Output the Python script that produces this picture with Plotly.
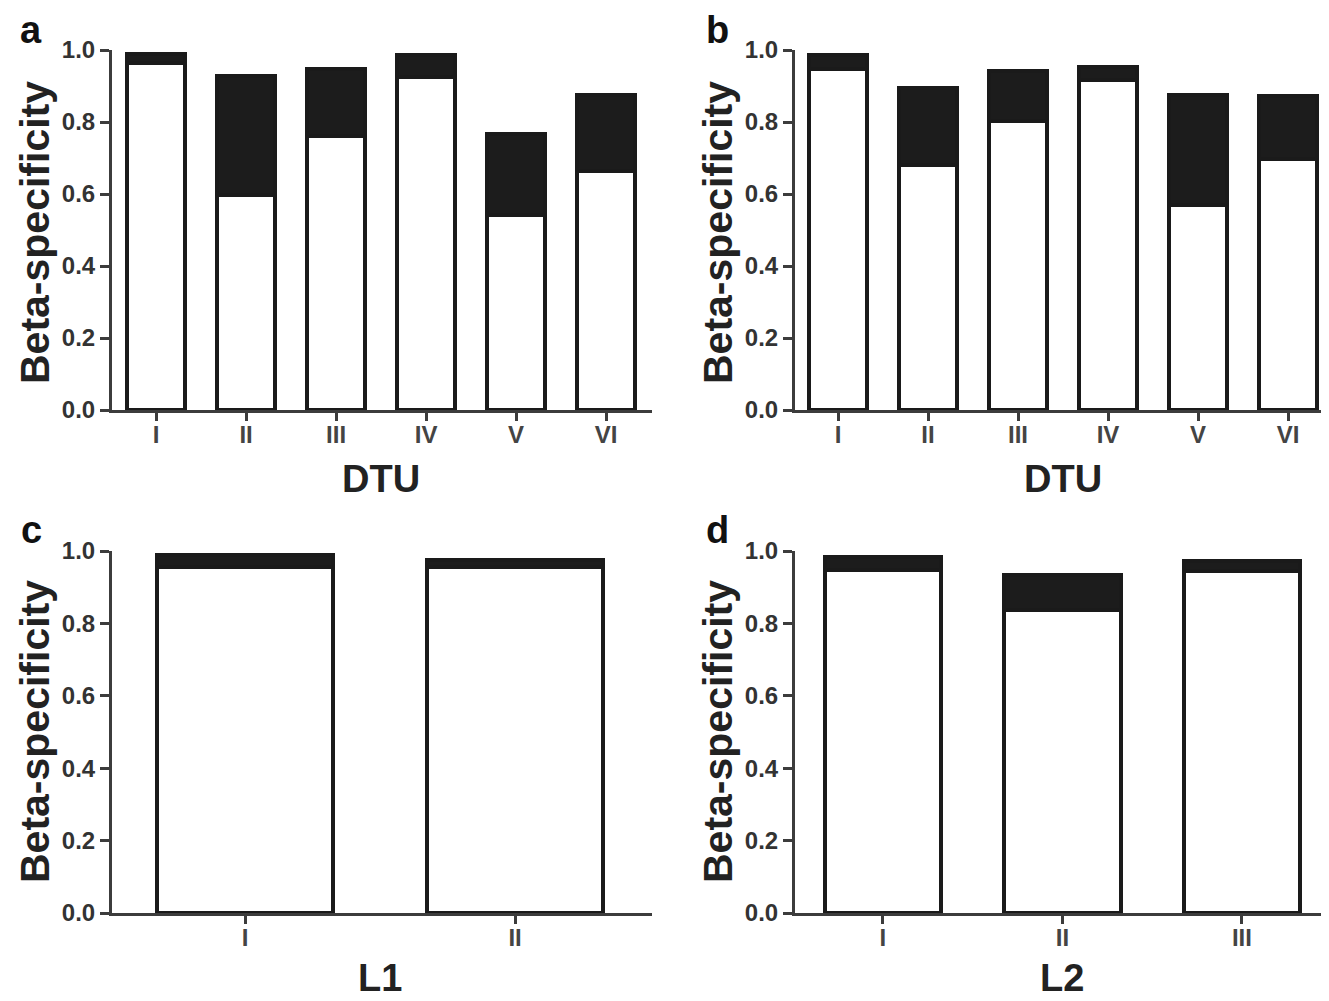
import plotly.graph_objects as go

# ---- data ----
dtu_cats = ["I", "II", "III", "IV", "V", "VI"]
a_total = [0.988, 0.928, 0.948, 0.985, 0.768, 0.876]
a_white = [0.964, 0.597, 0.760, 0.925, 0.542, 0.663]
b_total = [0.985, 0.894, 0.941, 0.953, 0.875, 0.872]
b_white = [0.948, 0.681, 0.804, 0.918, 0.569, 0.696]
l1_cats = ["I", "II"]
c_total = [0.988, 0.975]
c_white = [0.955, 0.957]
l2_cats = ["I", "II", "III"]
d_total = [0.983, 0.935, 0.972]
d_white = [0.948, 0.838, 0.946]
y_ticks = [0.0, 0.2, 0.4, 0.6, 0.8, 1.0]

# the page body adds an 8 px margin; work in window pixels and shift
OFF = 8
W, H = 1329 - OFF, 1001 - OFF
FONT = "Liberation Sans"
EDGE = "#1a1a1a"
AXC = "#3c3c3c"


def px_x(p):
    return (p - OFF) / W


def px_y(p):
    return 1 - (p - OFF) / H


panels = [
    # (cats, total, white, xaxis id, yaxis id, bar width, xdomain px, ydomain px, xrange, title, letter)
    (dtu_cats, a_total, a_white, "x", "y", 0.64, (112, 652), (50, 410), (-0.49, 5.51), "DTU", "a"),
    (dtu_cats, b_total, b_white, "x2", "y2", 0.64, (795, 1329), (50, 410), (-0.478, 5.455), "DTU", "b"),
    (l1_cats, c_total, c_white, "x3", "y3", 0.65, (112, 652), (551, 913), (-0.493, 1.507), "L1", "c"),
    (l2_cats, d_total, d_white, "x4", "y4", 0.65, (795, 1329), (551, 913), (-0.49, 2.485), "L2", "d"),
]

fig = go.Figure()
layout = dict(
    template="none",
    width=W, height=H, margin=dict(l=0, r=0, t=0, b=0, pad=0), autosize=False,
    paper_bgcolor="white", plot_bgcolor="white",
    barmode="stack", showlegend=False, annotations=[],
)

for i, (cats, tot, wht, xa, ya, bw, xd, yd, xr, title, letter) in enumerate(panels):
    xs = list(range(len(cats)))
    top = [t - w for t, w in zip(tot, wht)]
    fig.add_trace(go.Bar(x=xs, y=wht, width=bw, xaxis=xa, yaxis=ya,
                         marker=dict(color="white", line=dict(color=EDGE, width=4))))
    fig.add_trace(go.Bar(x=xs, y=top, width=bw, xaxis=xa, yaxis=ya,
                         marker=dict(color="#1c1c1c", line=dict(color=EDGE, width=4))))
    xkey = "xaxis" if i == 0 else f"xaxis{i+1}"
    ykey = "yaxis" if i == 0 else f"yaxis{i+1}"
    layout[xkey] = dict(
        domain=[px_x(xd[0]), min(1.0, px_x(xd[1]))], range=list(xr), anchor=ya, automargin=False,
        tickmode="array", tickvals=xs, ticktext=cats,
        showline=True, linecolor=AXC, linewidth=3,
        ticks="outside", ticklen=8, tickwidth=3, tickcolor=AXC,
        showgrid=False, zeroline=False, ticklabelstandoff=-7,
        tickfont=dict(family=FONT, size=24, color="#444444", weight="bold"),
    )
    layout[ykey] = dict(
        domain=[px_y(yd[1]), px_y(yd[0])], range=[0, 1], anchor=xa, automargin=False,
        tickmode="array", tickvals=y_ticks, ticktext=[f"{v:.1f}" for v in y_ticks],
        showline=True, linecolor=AXC, linewidth=3,
        ticks="outside", ticklen=9, tickwidth=3, tickcolor=AXC,
        showgrid=False, zeroline=False,
        tickfont=dict(family=FONT, size=24, color="#333333", weight="bold"),
    )
    ncat = len(cats)
    px_per = (xd[1] - xd[0]) / (xr[1] - xr[0])
    center_px = xd[0] + ((ncat - 1) / 2 - xr[0]) * px_per
    ty = 479 if yd[0] < 300 else 978
    layout["annotations"].append(dict(
        text=f"<b>{title}</b>", x=px_x(center_px), y=px_y(ty), xref="paper", yref="paper",
        xanchor="center", yanchor="middle", showarrow=False,
        font=dict(family=FONT, size=38, color="#222222")))
    yx = 35 if xd[0] < 400 else 718
    yy = 233 if yd[0] < 300 else 732
    layout["annotations"].append(dict(
        text="<b>Beta-specificity</b>", x=px_x(yx), y=px_y(yy), xref="paper", yref="paper",
        xanchor="center", yanchor="middle", textangle=-90, showarrow=False,
        font=dict(family=FONT, size=41, color="#222222")))
    lx = 31 if xd[0] < 400 else 717
    ly = 30 if yd[0] < 300 else 530
    layout["annotations"].append(dict(
        text=f"<b>{letter}</b>", x=px_x(lx), y=px_y(ly), xref="paper", yref="paper",
        xanchor="center", yanchor="middle", showarrow=False,
        font=dict(family=FONT, size=38, color="#111111")))

fig.update_layout(**layout)
fig.write_html("out.html")
